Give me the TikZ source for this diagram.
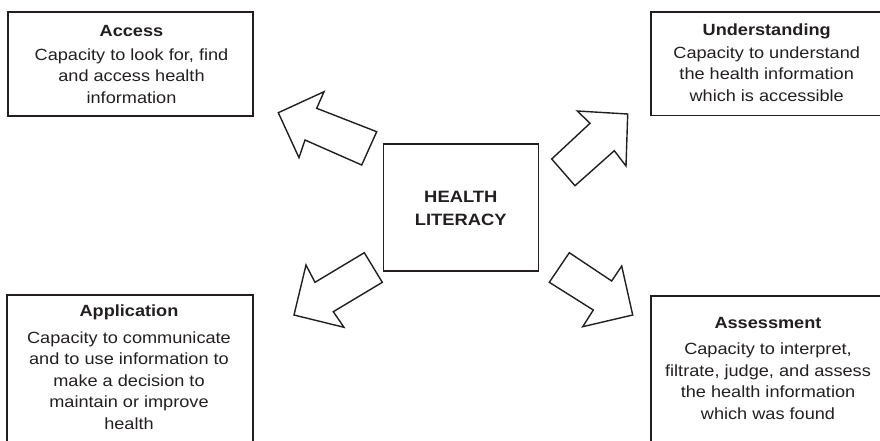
\documentclass[tikz,border=0pt]{standalone}
\usepackage{fontspec}
\setmainfont{Liberation Sans}[FakeStretch=1.12]
\definecolor{ink}{HTML}{231F20}
\begin{document}
\begin{tikzpicture}[x=1pt,y=-1pt,
  frame/.style={draw=ink, line width=1.6pt, inner sep=0pt},
  blockarrow/.style={draw=ink, line width=1.4pt, fill=white, line join=miter},
  caption/.style={inner sep=0pt, anchor=base, text=ink,
    font=\fontsize{16.2}{21.5}\selectfont}]
\clip (0,0) rectangle (880,440);

% frames
\node[frame, minimum width=244.7pt, minimum height=104pt] (access) at (130.35,64.15) {};
\node[frame, minimum width=244.3pt, minimum height=103.3pt] (understanding) at (772.85,63.65) {};
\node[frame, minimum width=246pt, minimum height=155pt] (application) at (129.7,372.5) {};
\node[frame, minimum width=244pt, minimum height=154pt] (assessment) at (773,373) {};
\node[frame, minimum width=155pt, minimum height=127pt] (literacy) at (460.8,207.5) {};

% texts
\node[caption] (accesstext) at (131.5,36) {\begin{tabular}[t]{c}\textbf{Access}\\[2.5pt]
  Capacity to look for, find\\ and access health\\ information\end{tabular}};
\node[caption] (understandingtext) at (766.7,35) {\begin{tabular}[t]{c}\textbf{Understanding}\\[1.8pt]
  Capacity to understand\\ the health information\\ which is accessible\end{tabular}};
\node[caption] (applicationtext) at (129,316.7) {\begin{tabular}[t]{c}\textbf{Application}\\[5pt]
  Capacity to communicate\\ and to use information to\\ make a decision to\\ maintain or improve\\ health\end{tabular}};
\node[caption] (assessmenttext) at (768,328.3) {\begin{tabular}[t]{c}\textbf{Assessment}\\[5pt]
  Capacity to interpret,\\ filtrate, judge, and assess\\ the health information\\ which was found\end{tabular}};
\node[caption, font=\fontsize{16.4}{22.3}\selectfont\bfseries] (literacytext) at (460.8,202.7)
  {\begin{tabular}[t]{c}HEALTH\\ LITERACY\end{tabular}};

% block arrows pointing outwards from the centre
\draw[blockarrow] (278.3,112.7) -- (324,91.7) -- (316.7,108.3) -- (376.7,131.7)
  -- (361.7,165) -- (305,140) -- (299,157.7) -- cycle;
\draw[blockarrow] (627.7,114) -- (577.3,111) -- (590,123.3) -- (551.7,159)
  -- (575,185.7) -- (614.3,150.7) -- (626,166) -- cycle;
\draw[blockarrow] (294,315) -- (306,265) -- (315,282.3) -- (364.3,252.7)
  -- (382.3,282.3) -- (333.3,311.7) -- (344,327.3) -- cycle;
\draw[blockarrow] (632.7,315) -- (621.7,266) -- (611.7,281) -- (569.3,252.7)
  -- (549.3,282.3) -- (593.3,310) -- (582.7,326.7) -- cycle;
\end{tikzpicture}
\end{document}
